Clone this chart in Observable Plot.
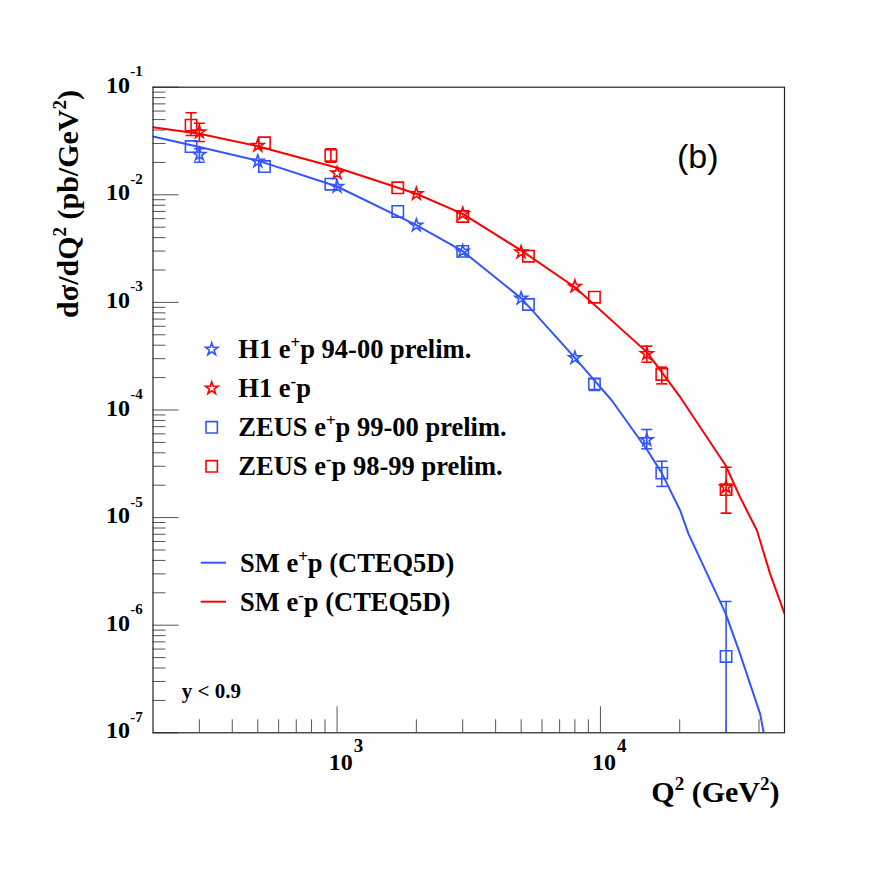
<!DOCTYPE html>
<html><head><meta charset="utf-8">
<script src="https://cdn.jsdelivr.net/npm/d3@7"></script>
<script src="https://cdn.jsdelivr.net/npm/@observablehq/plot@0.6"></script>
<style>body{margin:0;background:#fff} svg{display:block}</style>
</head><body><div id="chart"></div>
<script>
// ---- data ----
const h1X = [300, 500, 1000, 2000, 3000, 5000, 8000, 15000, 30000];
const h1PosVal = [0.0237, 0.0205, 0.0119, 0.00521, 0.00299, 0.00109, 3.05e-4, 5.28e-5];
const h1PosLo  = [0.0201, null, null, null, null, null, null, 4.36e-5];
const h1PosHi  = [0.0268, null, null, null, null, null, null, 6.59e-5];
const h1NegVal = [0.0382, 0.0287, 0.0159, 0.0102, 0.00666, 0.00293, 0.001406, 3.33e-4, 1.92e-5];
const h1NegLo  = [0.0313, null, null, null, null, null, null, 2.78e-4, 1.10e-5];
const h1NegHi  = [0.0463, null, null, null, null, null, null, 3.92e-4, 2.94e-5];

const zeusX = [279, 530, 947, 1700, 3000, 5330, 9490, 17100, 30000];
const zeusPosVal = [0.0281, 0.0183, 0.01255, 0.0070, 0.00298, 0.000956, 1.75e-4, 2.59e-5, 5.12e-7];
const zeusPosLo  = [null, null, null, null, null, null, 1.52e-4, 1.95e-5, 1e-7];
const zeusPosHi  = [null, null, null, null, null, null, 1.95e-4, 3.34e-5, 1.66e-6];
const zeusNegVal = [0.0443, 0.0304, 0.0232, 0.01161, 0.00629, 0.00269, 0.001117, 2.14e-4, 1.82e-5];
const zeusNegLo  = [0.0356, null, 0.0201, null, null, null, null, 1.75e-4, null];
const zeusNegHi  = [0.0578, null, 0.0268, null, null, null, null, 2.50e-4, null];

const smPosX = [200, 300, 500, 1000, 2000, 3000, 5000, 8000, 11050, 15100, 17100, 20100, 21600, 29900, 33900, 40400, 41700];
const smPosY = [0.0348, 0.0278, 0.0208, 0.01194, 0.00522, 0.00299, 0.001094, 3.05e-4, 1.225e-4, 4.2e-5, 2.59e-5, 1.16e-5, 7.06e-6, 1.28e-6, 5.42e-7, 1.5e-7, 1.0e-7];
const smNegX = [200, 300, 500, 1000, 2000, 3000, 5000, 8000, 15000, 20100, 29900, 33900, 39300, 44100, 50000];
const smNegY = [0.0425, 0.0369, 0.0283, 0.01782, 0.01022, 0.00666, 0.00304, 0.001384, 3.45e-4, 1.315e-4, 3.05e-5, 1.55e-5, 7.59e-6, 3.0e-6, 1.28e-6];

const yMajor = [1e-7, 1e-6, 1e-5, 1e-4, 1e-3, 1e-2, 1e-1];
const yTickExp = ["-7", "-6", "-5", "-4", "-3", "-2", "-1"];
const xMajor = [1e3, 1e4];
const xTickExp = ["3", "4"];
const minorMult = [2, 3, 4, 5, 6, 7, 8, 9];

const legendLabels = [
  [["H1 e", 0], ["+", 1], ["p 94-00 prelim.", 0]],
  [["H1 e", 0], ["-", 1], ["p", 0]],
  [["ZEUS e", 0], ["+", 1], ["p 99-00 prelim.", 0]],
  [["ZEUS e", 0], ["-", 1], ["p 98-99 prelim.", 0]]
];
const lineLabels = [
  [["SM e", 0], ["+", 1], ["p (CTEQ5D)", 0]],
  [["SM e", 0], ["-", 1], ["p (CTEQ5D)", 0]]
];
const yTitle = [["dσ/dQ", 0], ["2", 1], [" (pb/GeV", 0], ["2", 1], [")", 0]];
const xTitle = [["Q", 0], ["2", 1], [" (GeV", 0], ["2", 1], [")", 0]];
const panelLabel = "(b)";
const cutLabel = "y < 0.9";

// ---- style ----
const BLUE = "#3355ff", RED = "#ff0000";
const SERIF = "'Liberation Serif', 'Times New Roman', Times, 'DejaVu Serif', serif";
const SANS = "'Liberation Sans', Arial, Helvetica, sans-serif";
const W = 872, H = 872, mL = 152.5, mR = 88, mT = 86.7, mB = 139.7;
const plotW = W - mL - mR, plotH = H - mT - mB;

const yMinor = yMajor.slice(0, -1).flatMap(d => minorMult.map(m => m * d));
const xMinor = [1e2, 1e3, 1e4].flatMap(d => minorMult.map(m => m * d)).filter(v => v > 200 && v < 50000);

function pts(xs, ys, lo, hi) {
  return ys.map((v, i) => ({x: xs[i], y: v, lo: lo ? lo[i] : null, hi: hi ? hi[i] : null}));
}
const h1Pos = pts(h1X, h1PosVal, h1PosLo, h1PosHi);
const h1Neg = pts(h1X, h1NegVal, h1NegLo, h1NegHi);
const zeusPos = pts(zeusX, zeusPosVal, zeusPosLo, zeusPosHi);
const zeusNeg = pts(zeusX, zeusNegVal, zeusNegLo, zeusNegHi);
const smPos = smPosX.map((x, i) => ({x, y: smPosY[i]}));
const smNeg = smNegX.map((x, i) => ({x, y: smNegY[i]}));

const capSymbol = {draw(ctx) { ctx.moveTo(-5.5, 0); ctx.lineTo(5.5, 0); }};

function errMarks(data, color) {
  const e = data.filter(d => d.lo != null);
  const caps = e.flatMap(d => [{x: d.x, y: d.lo}, {x: d.x, y: d.hi}]);
  return [
    Plot.ruleX(e, {x: "x", y1: "lo", y2: "hi", stroke: color, strokeWidth: 1.6, clip: true}),
    Plot.dot(caps, {x: "x", y: "y", symbol: capSymbol, stroke: color, strokeWidth: 1.6, fill: "none", clip: true})
  ];
}
function starMarks(data, color) {
  return Plot.dot(data, {x: "x", y: "y", symbol: "star", r: 3.9, fill: "none", stroke: color, strokeWidth: 1.6});
}
function squareMarks(data, color) {
  return Plot.dot(data, {x: "x", y: "y", symbol: "square", r: 6.4, fill: "none", stroke: color, strokeWidth: 1.6});
}

const chart = Plot.plot({
  width: W, height: H,
  marginLeft: mL, marginRight: mR, marginTop: mT, marginBottom: mB,
  x: {type: "log", domain: [200, 50000], axis: null},
  y: {type: "log", domain: [1e-7, 1e-1], axis: null},
  style: {fontFamily: SERIF, background: "white"},
  marks: [
    Plot.ruleY(yMinor, {y: d => d, insetRight: plotW - 13, stroke: "#555", strokeWidth: 1}),
    Plot.ruleY(yMajor, {y: d => d, insetRight: plotW - 26, stroke: "#555", strokeWidth: 1}),
    Plot.ruleX(xMinor, {x: d => d, insetTop: plotH - 13, stroke: "#555", strokeWidth: 1}),
    Plot.ruleX(xMajor, {x: d => d, insetTop: plotH - 26, stroke: "#555", strokeWidth: 1}),
    ...errMarks(h1Pos, BLUE), ...errMarks(h1Neg, RED),
    ...errMarks(zeusPos, BLUE), ...errMarks(zeusNeg, RED),
    starMarks(h1Pos, BLUE), starMarks(h1Neg, RED),
    squareMarks(zeusPos, BLUE), squareMarks(zeusNeg, RED),
    Plot.line(smPos, {x: "x", y: "y", stroke: BLUE, strokeWidth: 2, clip: true}),
    Plot.line(smNeg, {x: "x", y: "y", stroke: RED, strokeWidth: 2, clip: true}),
    Plot.frame({stroke: "#222", strokeWidth: 1.2}),
    // y tick labels
    Plot.text(yMajor, {x: () => 200, y: d => d, text: () => "10", textAnchor: "end", dx: -23, dy: -2,
      fontSize: 24, fontWeight: "bold", fontFamily: SERIF, fill: "black"}),
    Plot.text(yMajor, {x: () => 200, y: d => d, text: (d, i) => yTickExp[i], textAnchor: "start", dx: -22.7, dy: -15.8,
      fontSize: 15, fontWeight: "bold", fontFamily: SERIF, fill: "black"}),
    // x tick labels
    Plot.text(xMajor, {x: d => d, y: () => 1e-7, text: () => "10", textAnchor: "start", dx: -8.4, dy: 30,
      fontSize: 24, fontWeight: "bold", fontFamily: SERIF, fill: "black"}),
    Plot.text(xMajor, {x: d => d, y: () => 1e-7, text: (d, i) => xTickExp[i], textAnchor: "start", dx: 16.6, dy: 13,
      fontSize: 19, fontWeight: "bold", fontFamily: SERIF, fill: "black"})
  ]
});
document.getElementById("chart").appendChild(chart);

// ---- annotations, titles and legend ----
const svg = d3.select(chart);
function rich(parts, {x, y, size, supSize, supDy, anchor = "start", rotate = 0}) {
  const t = svg.append("text")
    .attr("transform", `translate(${x},${y}) rotate(${rotate})`)
    .attr("text-anchor", anchor).style("font-family", SERIF).attr("font-weight", "bold")
    .attr("font-size", size).attr("fill", "black");
  let up = false;
  parts.forEach(([s, sup]) => {
    const ts = t.append("tspan").text(s).attr("font-size", sup ? supSize : size);
    if (sup && !up) { ts.attr("dy", -supDy); up = true; }
    else if (!sup && up) { ts.attr("dy", supDy); up = false; }
  });
  return t;
}
rich(yTitle, {x: 77.5, y: 90, size: 30, supSize: 19, supDy: 12, anchor: "end", rotate: -90});
rich(xTitle, {x: 779.5, y: 801.5, size: 30, supSize: 19, supDy: 12, anchor: "end"});

svg.append("text").attr("x", 677).attr("y", 168.3).attr("text-anchor", "start").style("font-family", SANS)
  .attr("font-size", 34).attr("fill", "black").text(panelLabel);
svg.append("text").attr("x", 181.7).attr("y", 698).attr("text-anchor", "start").style("font-family", SERIF)
  .attr("font-weight", "bold").attr("font-size", 21).attr("fill", "black").text(cutLabel);

const legSym = [d3.symbolStar, d3.symbolStar, d3.symbolSquare, d3.symbolSquare];
const legSize = [Math.PI * 3.9 * 3.9, Math.PI * 3.9 * 3.9, Math.PI * 6.4 * 6.4, Math.PI * 6.4 * 6.4];
const legCol = [BLUE, RED, BLUE, RED];
const legY0 = 349.3, legStep = 39;
legendLabels.forEach((parts, i) => {
  const y = legY0 + i * legStep;
  svg.append("path").attr("d", d3.symbol().type(legSym[i]).size(legSize[i])())
    .attr("transform", `translate(211.7,${y})`).attr("fill", "none").attr("stroke", legCol[i]).attr("stroke-width", 1.6);
  rich(parts, {x: 238.3, y: y + 9, size: 26.5, supSize: 17, supDy: 10});
});
const lineY0 = 562.7;
lineLabels.forEach((parts, i) => {
  const y = lineY0 + i * legStep;
  svg.append("line").attr("x1", 200.7).attr("x2", 226).attr("y1", y).attr("y2", y)
    .attr("stroke", [BLUE, RED][i]).attr("stroke-width", 2);
  rich(parts, {x: 240, y: y + 9, size: 26.5, supSize: 17, supDy: 10});
});
</script>
</body></html>
